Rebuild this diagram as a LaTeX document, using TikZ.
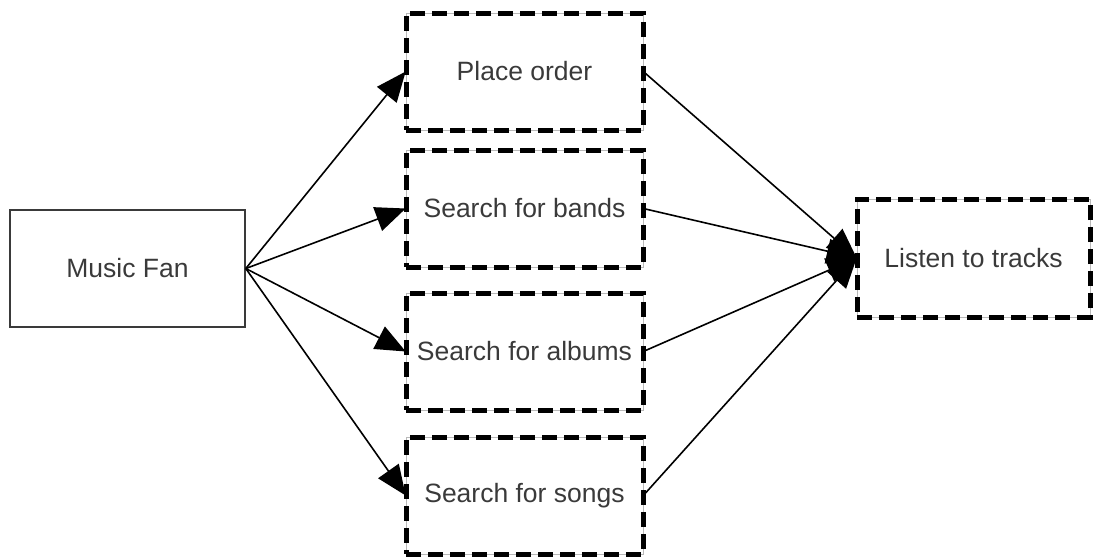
\documentclass[tikz,border=0pt]{standalone}
\usepackage{fontspec}
\setmainfont{Liberation Sans}
\usetikzlibrary{arrows.meta}
\definecolor{txt}{HTML}{3A3A3A}
\begin{document}
\begin{tikzpicture}[x=1pt,y=-1pt,
  every node/.style={font=\fontsize{26.5}{30}\selectfont, text=txt, inner sep=0pt},
  actor/.style={draw=txt, line width=1.6pt, minimum width=235pt, minimum height=117pt},
  usecase/.style={draw=gray!55, line width=0.6pt, minimum width=237pt, minimum height=117pt,
    postaction={draw=black, line width=5pt, dash pattern=on 15pt off 7pt}},
  link/.style={draw=black, line width=1.6pt},
  arr/.style={link, -{Triangle[length=30pt,width=25pt]}}
]
\useasboundingbox (0,0) rectangle (1093,558);
\node[actor] (fan) at (127.5,268.5) {Music Fan};
\node[usecase] (order) at (524.5,71.5) {Place order};
\node[usecase] (bands) at (524.5,208.5) {Search for bands};
\node[usecase] (albums) at (524.5,351.5) {Search for albums};
\node[usecase] (songs) at (524.5,495.5) {Search for songs};
\node[usecase, minimum width=233pt, minimum height=118pt] (listen) at (973.5,258) {Listen to tracks};

\foreach \t in {order,bands,albums,songs}
  \draw[arr] (fan.east) -- (\t.west);
\foreach \s in {order,bands,albums,songs}
  \draw[arr] (\s.east) -- (listen.west);
\end{tikzpicture}
\end{document}
